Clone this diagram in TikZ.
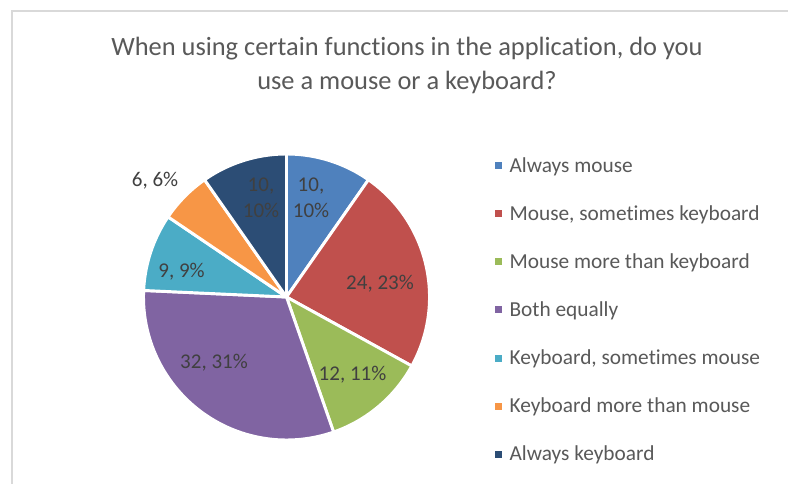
\documentclass[tikz,border=0pt]{standalone}
\usepackage{fontspec}
\setmainfont{Carlito}[Ligatures=NoCommon]
\definecolor{cA}{HTML}{4F81BD}
\definecolor{cB}{HTML}{C0504D}
\definecolor{cC}{HTML}{9BBB59}
\definecolor{cD}{HTML}{8064A2}
\definecolor{cE}{HTML}{4BACC6}
\definecolor{cF}{HTML}{F79646}
\definecolor{cG}{HTML}{2C4D75}
\definecolor{frameg}{HTML}{D9D9D9}
\definecolor{titleg}{HTML}{595959}
\definecolor{labelg}{HTML}{404040}
\begin{document}
\begin{tikzpicture}[x=0.75pt,y=0.75pt,
  slice/.style={draw=white,line width=2.2pt,line join=round},
  titletext/.style={font=\fontsize{19.8}{24}\selectfont,text=titleg,inner sep=0pt,anchor=base},
  datalabel/.style={font=\fontsize{15.75}{19.5}\selectfont,text=labelg,inner sep=0pt,align=center},
  legtext/.style={font=\fontsize{16}{19}\selectfont,text=titleg,inner sep=0pt,anchor=base west},
  legbox/.style={minimum size=7*0.75pt,inner sep=0pt,draw=none}]
\useasboundingbox (0,0) rectangle (788,-484);
\fill[white] (0,0) rectangle (788,-484);
\begin{scope}
\clip (0,0) rectangle (788,-484);
\draw[frameg,line width=1.3pt] (12,-11) rectangle (820,-520);
\end{scope}
% title
\node[titletext] (t1) at (407,-55.7) {When using certain functions in the application, do you};
\node[titletext] (t2) at (407,-90) {use a mouse or a keyboard?};
% pie
\coordinate (c) at (286.5,-297);
\def\R{143}
\filldraw[slice,fill=cA] (c) -- ++(55.049:\R) arc[start angle=55.049,end angle=90,radius=\R] -- cycle;
\filldraw[slice,fill=cB] (c) -- ++(-28.834:\R) arc[start angle=-28.834,end angle=55.049,radius=\R] -- cycle;
\filldraw[slice,fill=cC] (c) -- ++(-70.776:\R) arc[start angle=-70.776,end angle=-28.834,radius=\R] -- cycle;
\filldraw[slice,fill=cD] (c) -- ++(-182.621:\R) arc[start angle=-182.621,end angle=-70.776,radius=\R] -- cycle;
\filldraw[slice,fill=cE] (c) -- ++(-214.077:\R) arc[start angle=-214.077,end angle=-182.621,radius=\R] -- cycle;
\filldraw[slice,fill=cF] (c) -- ++(-235.048:\R) arc[start angle=-235.048,end angle=-214.077,radius=\R] -- cycle;
\filldraw[slice,fill=cG] (c) -- ++(-270:\R) arc[start angle=-270,end angle=-235.048,radius=\R] -- cycle;
% data labels
\node[datalabel] (lA) at (311,-198) {10,\\10\%};
\node[datalabel,anchor=base] (lB) at (380,-289.3) {24, 23\%};
\node[datalabel,anchor=base] (lC) at (352.5,-380) {12, 11\%};
\node[datalabel,anchor=base] (lD) at (214,-368) {32, 31\%};
\node[datalabel,anchor=base] (lE) at (181.5,-278) {9, 9\%};
\node[datalabel,anchor=base] (lF) at (155,-187) {6, 6\%};
\node[datalabel] (lG) at (261,-198) {10,\\10\%};
% legend
\foreach \i/\col/\txt in {0/cA/Always mouse,1/cB/{Mouse, sometimes keyboard},2/cC/Mouse more than keyboard,3/cD/Both equally,4/cE/{Keyboard, sometimes mouse},5/cF/Keyboard more than mouse,6/cG/Always keyboard}{
  \node[legbox,fill=\col] (k\i) at (498,{-166-48*\i}) {};
  \node[legtext] (g\i) at (509.3,{-172.3-48*\i}) {\txt};
}
\end{tikzpicture}
\end{document}
